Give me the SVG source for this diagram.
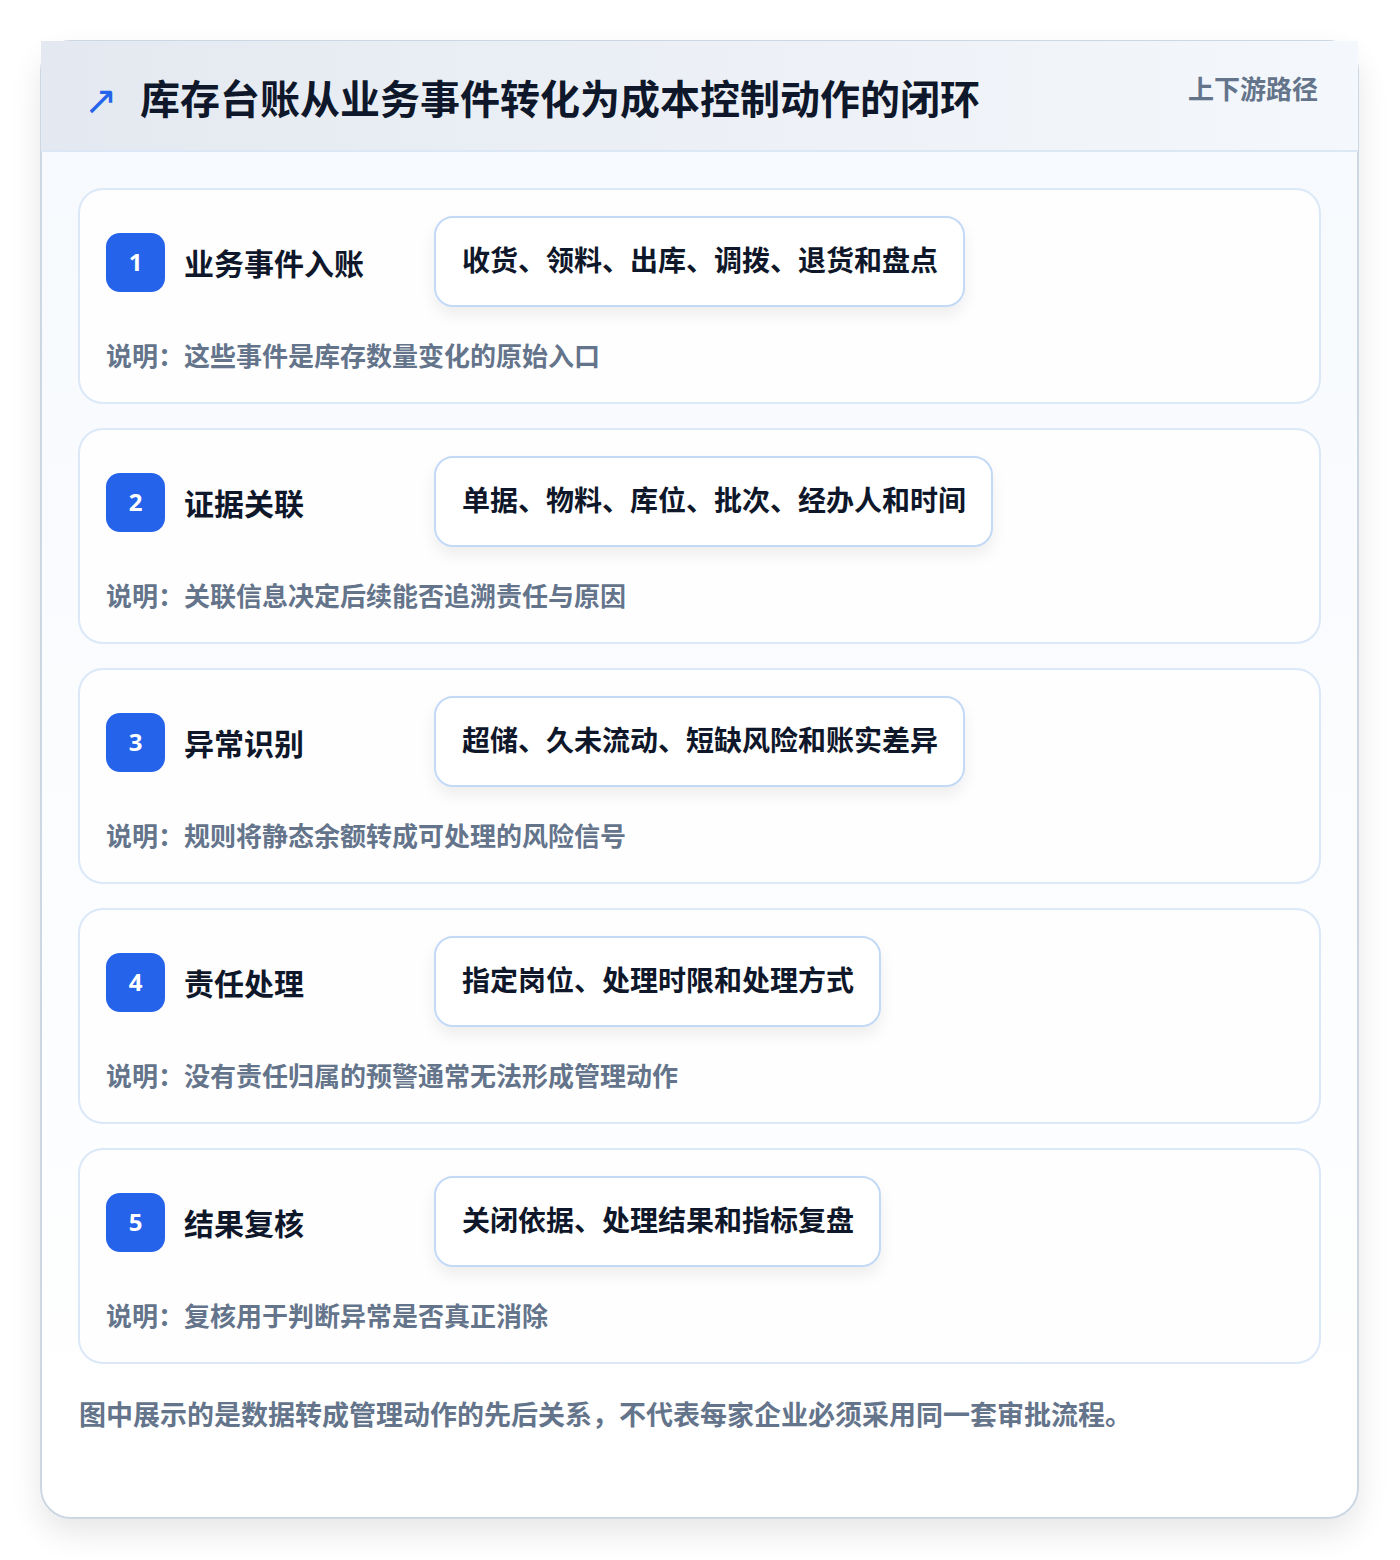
<svg xmlns="http://www.w3.org/2000/svg" width="1400" height="1560" viewBox="0 0 1400 1560">
<defs>
<linearGradient id="hdr" x1="0" y1="0" x2="1" y2="0"><stop offset="0" stop-color="#e4e9f1"/><stop offset="1" stop-color="#f4f7fb"/></linearGradient>
<linearGradient id="body" x1="0" y1="0" x2="0" y2="1"><stop offset="0" stop-color="#f6f9fd"/><stop offset="1" stop-color="#ffffff"/></linearGradient>
<filter id="outer" x="-10%" y="-10%" width="120%" height="120%"><feGaussianBlur in="SourceAlpha" stdDeviation="16"/><feOffset dy="14"/><feComponentTransfer><feFuncA type="linear" slope="0.10"/></feComponentTransfer><feMerge><feMergeNode/><feMergeNode in="SourceGraphic"/></feMerge></filter>
<filter id="pill" x="-10%" y="-30%" width="120%" height="170%"><feGaussianBlur in="SourceAlpha" stdDeviation="8"/><feOffset dy="8"/><feComponentTransfer><feFuncA type="linear" slope="0.07"/></feComponentTransfer><feMerge><feMergeNode/><feMergeNode in="SourceGraphic"/></feMerge></filter>
</defs>
<style>
text{font-family:"Noto Sans CJK SC","Noto Sans",sans-serif;font-weight:700}
.card{fill:#fefeff;stroke:#dbe8f8;stroke-width:2}
.pill{fill:#ffffff;stroke:#c3d9f5;stroke-width:2}
.badge{fill:#2563eb}
.num{fill:#ffffff;font-size:24px;text-anchor:middle;font-family:"Noto Sans","DejaVu Sans",sans-serif;font-weight:700}
.ttl{fill:#0f172a;font-size:30px}
.ptx{fill:#0f172a;font-size:28px}
.dsc{fill:#64748b;font-size:26px}
</style>
<rect width="1400" height="1560" fill="#ffffff"/>
<g id="frame">
<rect x="41" y="41" width="1317" height="1477" rx="30" fill="url(#body)" stroke="#cdd6e3" stroke-width="2" filter="url(#outer)"/>
<rect x="41" y="41" width="1317" height="110" fill="url(#hdr)"/>
<line x1="41" y1="151" x2="1358" y2="151" stroke="#dbe7f5" stroke-width="2"/>
<text x="84" y="114" fill="#2563eb" font-size="40" style="font-family:'DejaVu Sans',sans-serif;font-weight:400">↗</text>
<text x="140" y="114" fill="#0f172a" font-size="40">库存台账从业务事件转化为成本控制动作的闭环</text>
<text x="1318" y="99" fill="#64748b" font-size="26" text-anchor="end">上下游路径</text>
</g>
<g id="step1">
<rect class="card" x="79" y="189" width="1241" height="214" rx="24"/>
<rect class="badge" x="106" y="233" width="59" height="59" rx="14"/>
<text class="num" x="135.5" y="271">1</text>
<text class="ttl" x="184" y="275">业务事件入账</text>
<rect class="pill" x="435" y="217" width="529" height="89" rx="18" filter="url(#pill)"/>
<text class="ptx" x="462" y="271">收货、领料、出库、调拨、退货和盘点</text>
<text class="dsc" x="106" y="366">说明：这些事件是库存数量变化的原始入口</text>
</g>
<g id="step2">
<rect class="card" x="79" y="429" width="1241" height="214" rx="24"/>
<rect class="badge" x="106" y="473" width="59" height="59" rx="14"/>
<text class="num" x="135.5" y="511">2</text>
<text class="ttl" x="184" y="515">证据关联</text>
<rect class="pill" x="435" y="457" width="557" height="89" rx="18" filter="url(#pill)"/>
<text class="ptx" x="462" y="511">单据、物料、库位、批次、经办人和时间</text>
<text class="dsc" x="106" y="606">说明：关联信息决定后续能否追溯责任与原因</text>
</g>
<g id="step3">
<rect class="card" x="79" y="669" width="1241" height="214" rx="24"/>
<rect class="badge" x="106" y="713" width="59" height="59" rx="14"/>
<text class="num" x="135.5" y="751">3</text>
<text class="ttl" x="184" y="755">异常识别</text>
<rect class="pill" x="435" y="697" width="529" height="89" rx="18" filter="url(#pill)"/>
<text class="ptx" x="462" y="751">超储、久未流动、短缺风险和账实差异</text>
<text class="dsc" x="106" y="846">说明：规则将静态余额转成可处理的风险信号</text>
</g>
<g id="step4">
<rect class="card" x="79" y="909" width="1241" height="214" rx="24"/>
<rect class="badge" x="106" y="953" width="59" height="59" rx="14"/>
<text class="num" x="135.5" y="991">4</text>
<text class="ttl" x="184" y="995">责任处理</text>
<rect class="pill" x="435" y="937" width="445" height="89" rx="18" filter="url(#pill)"/>
<text class="ptx" x="462" y="991">指定岗位、处理时限和处理方式</text>
<text class="dsc" x="106" y="1086">说明：没有责任归属的预警通常无法形成管理动作</text>
</g>
<g id="step5">
<rect class="card" x="79" y="1149" width="1241" height="214" rx="24"/>
<rect class="badge" x="106" y="1193" width="59" height="59" rx="14"/>
<text class="num" x="135.5" y="1231">5</text>
<text class="ttl" x="184" y="1235">结果复核</text>
<rect class="pill" x="435" y="1177" width="445" height="89" rx="18" filter="url(#pill)"/>
<text class="ptx" x="462" y="1231">关闭依据、处理结果和指标复盘</text>
<text class="dsc" x="106" y="1326">说明：复核用于判断异常是否真正消除</text>
</g>
<g id="connectors"></g>
<text x="79" y="1425" fill="#64748b" font-size="27">图中展示的是数据转成管理动作的先后关系，不代表每家企业必须采用同一套审批流程。</text>
</svg>
